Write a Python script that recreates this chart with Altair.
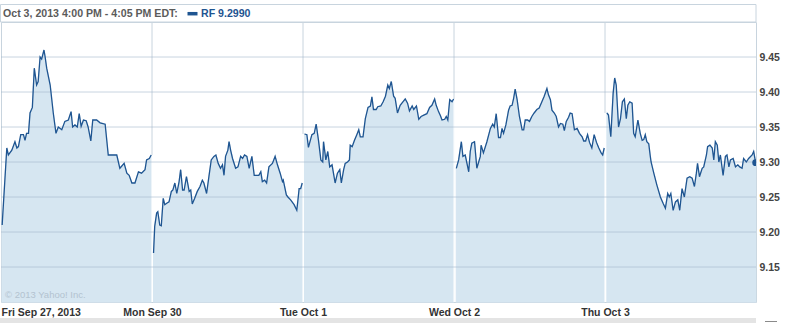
import json
import altair as alt
import pandas as pd

# ---------------- data ----------------
day_labels = ["Fri Sep 27, 2013", "Mon Sep 30", "Tue Oct 1", "Wed Oct 2", "Thu Oct 3"]
header_text = "Oct 3, 2013 4:00 PM - 4:05 PM EDT:"
legend_text = "RF 9.2990"
watermark_text = "\u00a9 2013 Yahoo! Inc."
y_ticks = [9.15, 9.20, 9.25, 9.30, 9.35, 9.40, 9.45]
y_domain = [9.10, 9.50]
session_minutes = 390  # 9:30 - 16:00

# minutes since the open, and price, for each trading day
fri_min = [3, 15, 19, 28, 36, 41, 45, 51, 58, 62, 66, 71, 75, 81, 86, 92, 96, 101, 105, 111,
           114, 118, 127, 135, 142, 148, 157, 165, 174, 181, 185, 191, 197, 202, 207, 213, 220, 225, 232, 237,
           247, 256, 269, 277, 299, 307, 318, 325, 331, 338, 346, 355, 363, 372, 376, 383, 388]
fri_val = [9.210, 9.320, 9.310, 9.317, 9.329, 9.320, 9.322, 9.339, 9.339, 9.331,
           9.341, 9.341, 9.370, 9.378, 9.434, 9.410, 9.415, 9.450, 9.447, 9.460,
           9.450, 9.434, 9.410, 9.370, 9.341, 9.350, 9.346, 9.358, 9.360, 9.372,
           9.350, 9.353, 9.350, 9.369, 9.351, 9.360, 9.359, 9.350, 9.330, 9.360,
           9.360, 9.356, 9.354, 9.310, 9.310, 9.291, 9.298, 9.284, 9.281, 9.270,
           9.270, 9.286, 9.284, 9.289, 9.303, 9.305, 9.310]

mon_min = [4, 7, 12, 15, 20, 24, 29, 33, 38, 44, 50, 54, 59, 64, 70, 74, 79, 83, 89, 96,
           100, 104, 110, 117, 124, 130, 134, 141, 147, 153, 160, 165, 171, 177, 182, 186, 190, 196, 199, 203,
           208, 216, 222, 229, 234, 239, 245, 251, 258, 264, 268, 276, 281, 285, 291, 296, 302, 311, 318, 324,
           331, 337, 339, 347, 351, 358, 367, 374, 377, 380, 384, 388]
mon_val = [9.170, 9.208, 9.227, 9.229, 9.210, 9.209, 9.248, 9.239, 9.241, 9.243,
           9.258, 9.260, 9.270, 9.255, 9.272, 9.289, 9.260, 9.260, 9.279, 9.258,
           9.260, 9.240, 9.248, 9.258, 9.265, 9.274, 9.270, 9.255, 9.279, 9.303,
           9.308, 9.310, 9.298, 9.291, 9.296, 9.281, 9.308, 9.317, 9.329, 9.317,
           9.305, 9.291, 9.293, 9.308, 9.305, 9.310, 9.308, 9.291, 9.308, 9.281,
           9.281, 9.281, 9.286, 9.272, 9.274, 9.270, 9.293, 9.298, 9.308, 9.296,
           9.284, 9.272, 9.274, 9.253, 9.250, 9.246, 9.239, 9.231, 9.246, 9.262,
           9.262, 9.270]

tue_min = [4, 10, 14, 23, 29, 34, 40, 45, 46, 51, 53, 59, 64, 69, 75, 83, 89, 95, 99, 105,
           109, 115, 120, 122, 127, 133, 139, 144, 148, 155, 161, 168, 174, 178, 182, 189, 193, 201, 207, 213,
           219, 223, 228, 234, 238, 244, 251, 258, 264, 270, 275, 282, 286, 293, 299, 305, 312, 320, 327, 333,
           340, 344, 350, 355, 359, 366, 370, 374, 379, 385, 389]
tue_val = [9.340, 9.339, 9.321, 9.339, 9.341, 9.354, 9.331, 9.308, 9.303, 9.300,
           9.329, 9.303, 9.315, 9.293, 9.296, 9.270, 9.284, 9.289, 9.270, 9.289,
           9.298, 9.300, 9.303, 9.324, 9.322, 9.331, 9.339, 9.346, 9.336, 9.336,
           9.362, 9.378, 9.380, 9.393, 9.375, 9.375, 9.379, 9.380, 9.386, 9.394,
           9.410, 9.405, 9.415, 9.394, 9.391, 9.370, 9.381, 9.386, 9.390, 9.384,
           9.373, 9.380, 9.375, 9.380, 9.361, 9.365, 9.367, 9.369, 9.378, 9.381,
           9.390, 9.381, 9.372, 9.366, 9.360, 9.361, 9.365, 9.360, 9.389, 9.386,
           9.390]

wed_min = [6, 12, 19, 23, 29, 38, 42, 46, 53, 59, 68, 70, 76, 85, 94, 100, 104, 109, 115, 120,
           124, 128, 134, 141, 145, 150, 154, 158, 163, 169, 176, 180, 184, 190, 195, 201, 207, 214, 220, 227,
           233, 240, 244, 249, 253, 259, 264, 270, 275, 281, 285, 290, 296, 300, 305, 311, 318, 324, 331, 335,
           340, 345, 350, 356, 362, 368, 371, 374, 380, 384, 388]
wed_val = [9.291, 9.303, 9.329, 9.308, 9.310, 9.286, 9.315, 9.327, 9.329, 9.291,
           9.308, 9.324, 9.313, 9.329, 9.348, 9.354, 9.350, 9.369, 9.335, 9.335,
           9.348, 9.341, 9.353, 9.374, 9.380, 9.381, 9.391, 9.404, 9.389, 9.365,
           9.346, 9.346, 9.360, 9.360, 9.358, 9.365, 9.370, 9.375, 9.377, 9.386,
           9.394, 9.405, 9.396, 9.389, 9.374, 9.370, 9.365, 9.350, 9.355, 9.354,
           9.345, 9.358, 9.364, 9.370, 9.369, 9.346, 9.348, 9.341, 9.336, 9.330,
           9.330, 9.339, 9.328, 9.320, 9.339, 9.328, 9.324, 9.320, 9.313, 9.310,
           9.320]

thu_min = [5, 9, 15, 21, 25, 29, 35, 40, 45, 50, 55, 59, 64, 70, 74, 78, 85, 91, 96, 100,
           104, 108, 113, 117, 119, 126, 134, 143, 150, 156, 162, 166, 170, 176, 182, 188, 193, 199, 205, 212,
           219, 225, 231, 236, 239, 244, 251, 255, 262, 265, 271, 277, 281, 285, 290, 294, 298, 305, 311, 315,
           320, 324, 331, 337, 343, 348, 354, 358, 365, 371, 380, 384, 389]
thu_val = [9.370, 9.367, 9.336, 9.398, 9.420, 9.410, 9.350, 9.362, 9.386, 9.390,
           9.362, 9.381, 9.386, 9.384, 9.341, 9.336, 9.360, 9.341, 9.331, 9.332,
           9.339, 9.329, 9.326, 9.308, 9.300, 9.284, 9.267, 9.250, 9.241, 9.234,
           9.255, 9.250, 9.255, 9.231, 9.243, 9.246, 9.231, 9.262, 9.250, 9.277,
           9.279, 9.277, 9.265, 9.284, 9.298, 9.279, 9.291, 9.293, 9.310, 9.322,
           9.324, 9.320, 9.303, 9.329, 9.324, 9.300, 9.310, 9.281, 9.308, 9.310,
           9.293, 9.303, 9.305, 9.293, 9.296, 9.293, 9.291, 9.305, 9.300, 9.305,
           9.310, 9.315, 9.299]

all_minutes = [fri_min, mon_min, tue_min, wed_min, thu_min]
all_values = [fri_val, mon_val, tue_val, wed_val, thu_val]

rows = []
for d, (mins, vals) in enumerate(zip(all_minutes, all_values)):
    for m, v in zip(mins, vals):
        rows.append({"day": d, "pos": d * session_minutes + m, "price": v})
df = pd.DataFrame(rows)

sep_df = pd.DataFrame({
    "pos": [d * session_minutes for d in range(1, 5)],
    "top": [max(all_values[d - 1][-1], all_values[d][0]) for d in range(1, 5)],
})
grid_df = pd.DataFrame({"price": y_ticks})
last_df = df.tail(1)

# ---------------- style ----------------
FONT = "Liberation Sans"
LINE = "#1F5591"
FILL = "#D6E6F1"
GRID = "#C8D4DE"
total_x = 5 * session_minutes

x_scale = alt.Scale(domain=[0, total_x], nice=False, zero=False)
y_scale = alt.Scale(domain=y_domain, nice=False, zero=False)

x_axis = alt.Axis(
    values=[d * session_minutes for d in range(5)],
    labelExpr=f"{json.dumps(day_labels)}[round(datum.value / {session_minutes})]",
    title=None, grid=False, ticks=False, domain=False,
    labelFlush=True, labelOverlap=False, labelPadding=5,
    labelFont=FONT, labelFontSize=10.5, labelFontWeight="bold", labelColor="#333333",
)
y_axis = alt.Axis(
    orient="right", values=y_ticks, format=".2f", title=None,
    grid=False, ticks=False, domain=False, labelPadding=3,
    labelFont=FONT, labelFontSize=10.5, labelFontWeight="bold", labelColor="#444444",
)

X = alt.X("pos:Q", scale=x_scale, axis=x_axis)
Y = alt.Y("price:Q", scale=y_scale, axis=y_axis)

separators = alt.Chart(sep_df).mark_rule(color=GRID, strokeWidth=1).encode(
    x=X,
    y=alt.Y("top:Q", scale=y_scale, axis=y_axis),
    y2=alt.datum(y_domain[1]),
)

area = alt.Chart(df).mark_area(
    color=FILL, opacity=1, interpolate="linear", stroke=FILL, strokeWidth=1.2
).encode(x=X, y=Y, y2=alt.datum(y_domain[0]), detail="day:N")

separators_in_fill = alt.Chart(sep_df).mark_rule(color="white", strokeWidth=1).encode(
    x=X,
    y=alt.Y("top:Q", scale=y_scale, axis=y_axis),
    y2=alt.datum(y_domain[0]),
)

grid = alt.Chart(grid_df).mark_rule(color="#A3B9CB", opacity=0.6, strokeWidth=1).encode(y=Y)

line = alt.Chart(df).mark_line(color=LINE, strokeWidth=1.3, interpolate="linear").encode(
    x=X, y=Y, detail="day:N"
)

end_point = alt.Chart(last_df).mark_point(
    filled=True, color=LINE, size=45, opacity=1, clip=True
).encode(x=X, y=Y)

watermark = alt.Chart(pd.DataFrame({"t": [watermark_text]})).mark_text(
    align="left", baseline="alphabetic", font=FONT, fontSize=9.5, color="#B3C3D0"
).encode(x=alt.value(4), y=alt.value(276), text="t:N")

header_box = alt.Chart(pd.DataFrame({"t": [0]})).mark_rect(
    fillOpacity=0, stroke=GRID, strokeWidth=1
).encode(x=alt.value(-0.5), x2=alt.value(755), y=alt.value(-17.5), y2=alt.value(0))

header = alt.Chart(pd.DataFrame({"t": [header_text]})).mark_text(
    align="left", baseline="alphabetic", font=FONT, fontSize=10.6, fontWeight="bold", color="#5B5B5B"
).encode(x=alt.value(2), y=alt.value(-5), text="t:N")

swatch = alt.Chart(pd.DataFrame({"t": [0]})).mark_rule(color=LINE, strokeWidth=3.5).encode(
    x=alt.value(186.5), x2=alt.value(196.5), y=alt.value(-8.3)
)

legend = alt.Chart(pd.DataFrame({"t": [legend_text]})).mark_text(
    align="left", baseline="alphabetic", font=FONT, fontSize=10.6, fontWeight="bold", color=LINE
).encode(x=alt.value(200), y=alt.value(-5), text="t:N")

bottom_band = alt.Chart(pd.DataFrame({"t": [0]})).mark_rect(color="#E4E4E4").encode(
    x=alt.value(-1), x2=alt.value(755), y=alt.value(296), y2=alt.value(301)
)
bottom_dash = alt.Chart(pd.DataFrame({"t": [0]})).mark_rule(color="#8A8A8A", strokeWidth=1).encode(
    x=alt.value(764), x2=alt.value(776), y=alt.value(299.5)
)

chart = alt.layer(
    separators, area, separators_in_fill, grid, line, end_point, watermark,
    header_box, header, swatch, legend, bottom_band, bottom_dash,
).properties(
    width=755, height=280,
    padding={"left": 1, "top": 22, "right": 35, "bottom": 21},
    autosize=alt.AutoSizeParams(type="none"),
    background="white",
).configure_view(stroke=GRID, strokeWidth=1)

chart.save("out.html", embed_options={"renderer": "svg", "actions": False})
